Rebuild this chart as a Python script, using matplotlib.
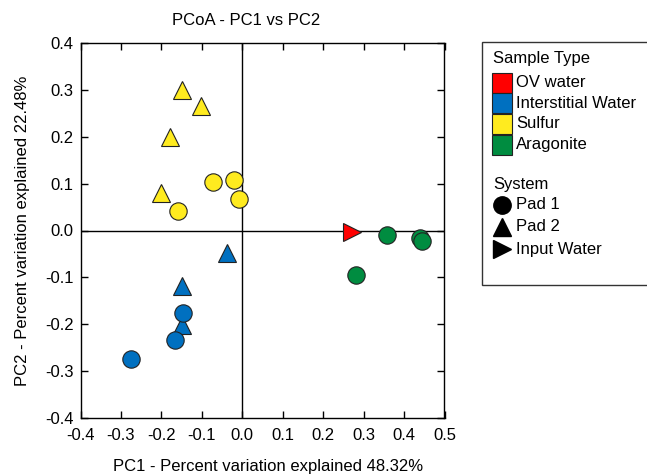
import matplotlib.pyplot as plt
from matplotlib.patches import Rectangle
from matplotlib.lines import Line2D

plt.rcParams['font.family'] = ['Liberation Sans', 'DejaVu Sans']

# sample type colours
type_names = ['OV water', 'Interstitial Water', 'Sulfur', 'Aragonite']
type_colors = ['#ff0000', '#0070c0', '#ffeb1f', '#008c40']

# system markers
system_names = ['Pad 1', 'Pad 2', 'Input Water']
system_markers = ['o', '^', '>']

# points: (pc1, pc2, sample type index, system index)
pc1 = [-0.148, -0.101, -0.178, -0.200,
       -0.073, -0.020, -0.007, -0.158,
       -0.037, -0.148, -0.148,
       -0.147, -0.166, -0.274,
       0.272,
       0.358, 0.282, 0.440, 0.445]
pc2 = [0.300, 0.265, 0.199, 0.081,
       0.103, 0.108, 0.068, 0.042,
       -0.047, -0.118, -0.201,
       -0.175, -0.233, -0.274,
       -0.003,
       -0.009, -0.095, -0.015, -0.022]
sample_type = [2, 2, 2, 2,
               2, 2, 2, 2,
               1, 1, 1,
               1, 1, 1,
               0,
               3, 3, 3, 3]
system = [1, 1, 1, 1,
          0, 0, 0, 0,
          1, 1, 1,
          0, 0, 0,
          2,
          0, 0, 0, 0]

FS = 12
W, H = 647, 476
fig = plt.figure(figsize=(W / 100, H / 100), dpi=100)
ax = fig.add_axes([80.5 / W, 58 / H, 364 / W, 375 / H])

ax.axhline(0, color='black', lw=1, zorder=1)
ax.axvline(0, color='black', lw=1, zorder=1)

for x, y, t, s in zip(pc1, pc2, sample_type, system):
    ax.plot(x, y, marker=system_markers[s], ms=12.5, color=type_colors[t],
            markeredgecolor='#222222', markeredgewidth=0.8, ls='none', zorder=3)

ax.set_xlim(-0.4, 0.5)
ax.set_ylim(-0.4, 0.4)
ax.set_xticks([-0.4, -0.3, -0.2, -0.1, 0.0, 0.1, 0.2, 0.3, 0.4, 0.5])
ax.set_yticks([-0.4, -0.3, -0.2, -0.1, 0.0, 0.1, 0.2, 0.3, 0.4])
ax.xaxis.set_major_formatter(lambda v, p: f'{v:.1f}'.replace('-0.0', '0.0'))
ax.yaxis.set_major_formatter(lambda v, p: f'{v:.1f}'.replace('-0.0', '0.0'))
ax.tick_params(direction='in', length=5, width=1, labelsize=FS,
               top=True, right=True)
ax.tick_params(axis='x', pad=7)
ax.tick_params(axis='y', pad=5)
for sp in ax.spines.values():
    sp.set_linewidth(1)

ax.set_title('PCoA - PC1 vs PC2', fontsize=FS, pad=13, x=(246 - 80.5) / 364)
ax.set_xlabel('PC1 - Percent variation explained 48.32%', fontsize=FS, labelpad=12,
              x=(268 - 80.5) / 364)
ax.set_ylabel('PC2 - Percent variation explained 22.48%', fontsize=FS, labelpad=11)


# legend drawn in pixel coordinates (origin top-left)
def px(x, y):
    return x / W, 1 - y / H


fig.add_artist(Rectangle(px(482, 285), 200 / W, 243 / H, transform=fig.transFigure,
                         facecolor='white', edgecolor='#333333', lw=1))
fig.text(*px(493, 58), 'Sample Type', fontsize=FS, va='center')
for i, (name, col) in enumerate(zip(type_names, type_colors)):
    yc = 82.5 + i * 20.7
    fig.add_artist(Rectangle(px(492, yc + 10), 19.5 / W, 20 / H, transform=fig.transFigure,
                             facecolor=col, edgecolor='#222222', lw=0.8))
    fig.text(*px(516, yc), name, fontsize=FS, va='center')

fig.text(*px(493, 184), 'System', fontsize=FS, va='center')
for i, (name, m) in enumerate(zip(system_names, system_markers)):
    yc = 204.5 + i * 22.3
    fig.add_artist(Line2D([501.5 / W], [1 - yc / H], marker=m, ms=12.5, color='black',
                          transform=fig.transFigure, ls='none'))
    fig.text(*px(516, yc), name, fontsize=FS, va='center')

fig.savefig('out.png', dpi=100)
